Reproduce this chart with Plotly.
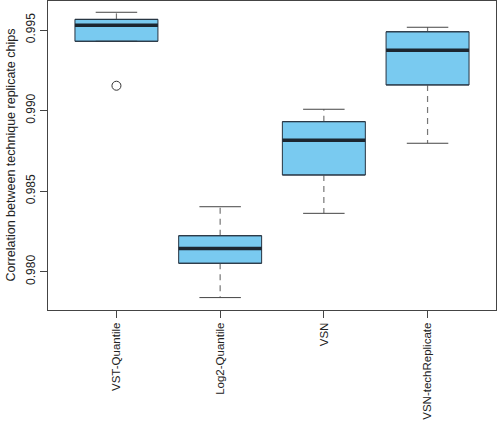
import plotly.graph_objects as go

categories = ["VST-Quantile", "Log2-Quantile", "VSN", "VSN-techReplicate"]
upper_whisker = [0.99610, 0.98403, 0.99008, 0.99517]
q3 = [0.99566, 0.98223, 0.98931, 0.99489]
median = [0.99529, 0.98143, 0.98815, 0.99374]
q1 = [0.99430, 0.98052, 0.98600, 0.99159]
lower_whisker = [0.99430, 0.97839, 0.98362, 0.98797]
outlier_group = [1]
outlier_value = [0.99154]
y_tick_values = [0.980, 0.985, 0.990, 0.995]
y_tick_labels = ["0.980", "0.985", "0.990", "0.995"]

pos = list(range(1, len(categories) + 1))
box_w = 0.8
cap_w = 0.4

fill = "#79CAF0"
edge = "#263340"

fig = go.Figure()

# boxes
fig.add_trace(go.Bar(
    x=pos, base=q1, y=[b - a for a, b in zip(q1, q3)], width=box_w,
    marker=dict(color=fill, line=dict(color=edge, width=1)),
    showlegend=False, hoverinfo="skip"))

def segs(xs0, xs1, ys0, ys1):
    X, Y = [], []
    for a, b, c, d in zip(xs0, xs1, ys0, ys1):
        X += [a, b, None]
        Y += [c, d, None]
    return X, Y

# whiskers (dashed)
wx, wy = segs(pos + pos, pos + pos, q3 + q1, upper_whisker + lower_whisker)
fig.add_trace(go.Scatter(x=wx, y=wy, mode="lines",
                         line=dict(color="#777777", width=1.2, dash="6px,5px"),
                         showlegend=False, hoverinfo="skip"))
# caps
cx, cy = segs([p - cap_w / 2 for p in pos] * 2, [p + cap_w / 2 for p in pos] * 2,
              upper_whisker + lower_whisker, upper_whisker + lower_whisker)
fig.add_trace(go.Scatter(x=cx, y=cy, mode="lines",
                         line=dict(color="#444444", width=1),
                         showlegend=False, hoverinfo="skip"))
# re-draw box outlines on top of whiskers
bx, by = segs([p - box_w / 2 for p in pos] * 2, [p + box_w / 2 for p in pos] * 2,
              q1 + q3, q1 + q3)
fig.add_trace(go.Scatter(x=bx, y=by, mode="lines",
                         line=dict(color=edge, width=1),
                         showlegend=False, hoverinfo="skip"))
# medians
mx, my = segs([p - box_w / 2 for p in pos], [p + box_w / 2 for p in pos], median, median)
fig.add_trace(go.Scatter(x=mx, y=my, mode="lines",
                         line=dict(color="#1c2630", width=3.5),
                         showlegend=False, hoverinfo="skip"))
# outliers
fig.add_trace(go.Scatter(x=outlier_group, y=outlier_value, mode="markers",
                         marker=dict(symbol="circle-open", size=9,
                                     color="#333333", line=dict(width=1)),
                         showlegend=False, hoverinfo="skip"))

font = "Liberation Sans, Arial, sans-serif"
fig.update_layout(
    width=497, height=426,
    margin=dict(l=48, r=1, t=1, b=116),
    plot_bgcolor="white", paper_bgcolor="white",
    font=dict(family=font, size=12, color="#222222"),
    xaxis=dict(range=[0.34, 4.66], tickvals=pos, ticktext=categories,
               tickangle=-90, ticks="outside", ticklen=7, tickcolor="#444444",
               tickfont=dict(size=11.5),
               showline=True, linecolor="#444444", linewidth=1, mirror=True,
               showgrid=False, zeroline=False, fixedrange=True, automargin=False),
    yaxis=dict(range=[0.97762, 0.9968], tickvals=y_tick_values,
               ticktext=y_tick_labels, tickangle=-90,
               ticks="outside", ticklen=7, tickcolor="#444444",
               showline=True, linecolor="#444444", linewidth=1, mirror=True,
               showgrid=False, zeroline=False, fixedrange=True, automargin=False),
    annotations=[dict(text="Correlation between technique replicate chips",
                      xref="paper", yref="paper", x=(10 - 48) / 448, y=0.5,
                      xanchor="center", yanchor="middle", textangle=-90,
                      showarrow=False, font=dict(size=12.5, color="#222222"))],
)

fig.write_html("out.html", config={"displayModeBar": False},
               post_script="document.body.style.margin='0';document.body.style.overflow='hidden';")
